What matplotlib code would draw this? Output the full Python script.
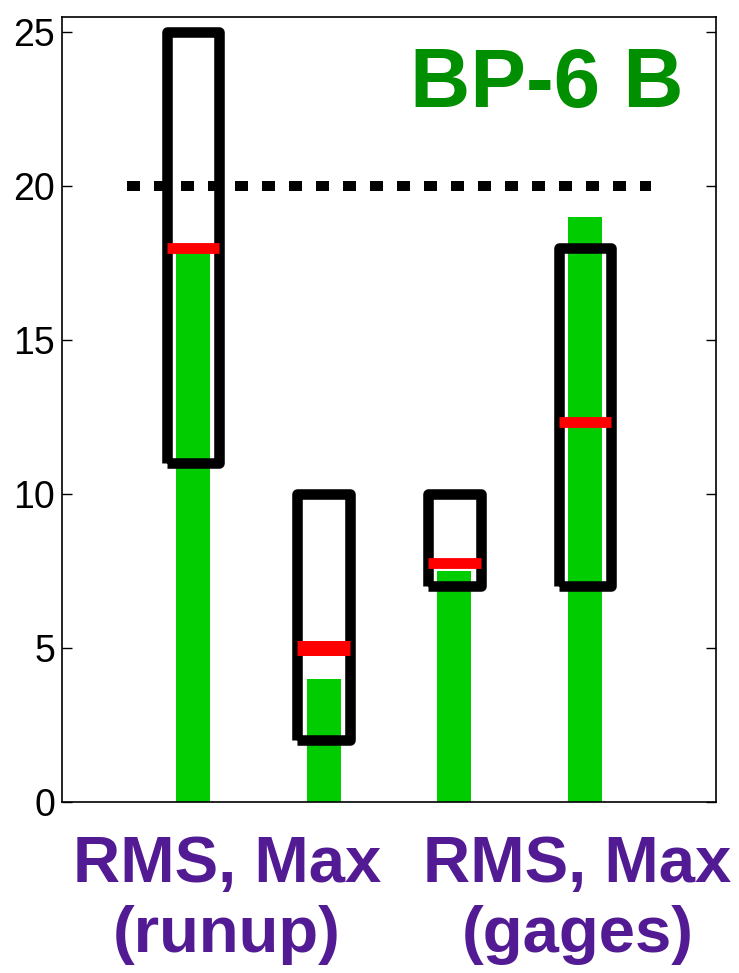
import matplotlib
matplotlib.use("Agg")
import matplotlib.pyplot as plt
import matplotlib.transforms as mtransforms

plt.rcParams['font.family'] = ['Liberation Sans', 'DejaVu Sans']

positions = [1, 2, 3, 4]
green_values = [18.0, 4.0, 7.5, 19.0]
box_low = [11.0, 2.0, 7.0, 7.0]
box_high = [25.0, 10.0, 10.0, 18.0]
red_values = [18.0, 5.0, 7.75, 12.35]
threshold = 20.0
group_line1 = ["RMS, Max", "RMS, Max"]
group_line2 = ["(runup)", "(gages)"]
group_positions = [1.26, 3.94]
yticks = [0, 5, 10, 15, 20, 25]
title_text = "BP-6 B"

red_lw = [7.8, 10.8, 7.8, 7.8]

W, H = 739, 973
fig = plt.figure(figsize=(W/100, H/100), dpi=100)
ax = fig.add_axes([62/W, (H-801.7)/H, (716-62)/W, (801.7-17)/H])

ax.bar(positions, green_values, width=0.26, color='#00CC00', zorder=1)

hw = 0.2
for x, lo, hi in zip(positions, box_low, box_high):
    xs = [x - hw, x - hw, x + hw, x + hw, x - hw]
    ys = [lo, hi, hi, lo, lo]
    ax.plot(xs, ys, color='black', lw=7.6, solid_joinstyle='round',
            solid_capstyle='butt', zorder=2)

for x, r, lw in zip(positions, red_values, red_lw):
    ax.plot([x - hw, x + hw], [r, r], color='#FF0000', lw=lw, solid_capstyle='butt', zorder=3)

ax.plot([0.5, 4.5], [threshold, threshold], color='black', lw=7.2,
        linestyle=(0, (1.3, 1.4)), dash_capstyle='butt', zorder=2)

ax.set_xlim(0, 5)
ax.set_ylim(0, 25.5)
ax.set_yticks(yticks)
ax.set_yticklabels([str(t) for t in yticks], fontsize=27)
ax.tick_params(axis='y', direction='in', length=7, width=1, right=True, pad=5)
ax.set_xticks([])
for s in ax.spines.values():
    s.set_linewidth(1.2)

trans = mtransforms.blended_transform_factory(ax.transData, fig.transFigure)
for gx, l1, l2 in zip(group_positions, group_line1, group_line2):
    ax.text(gx, (H-882)/H, l1, transform=trans, fontsize=47, fontweight='bold',
            color='#531B93', ha='center', va='baseline', clip_on=False)
    ax.text(gx, (H-952)/H, l2, transform=trans, fontsize=47, fontweight='bold',
            color='#531B93', ha='center', va='baseline', clip_on=False)

ax.text(547/W, (H-107)/H, title_text, transform=fig.transFigure, fontsize=60,
        fontweight='bold', color='#008F00', ha='center', va='baseline')

fig.savefig("out.png", dpi=100)
